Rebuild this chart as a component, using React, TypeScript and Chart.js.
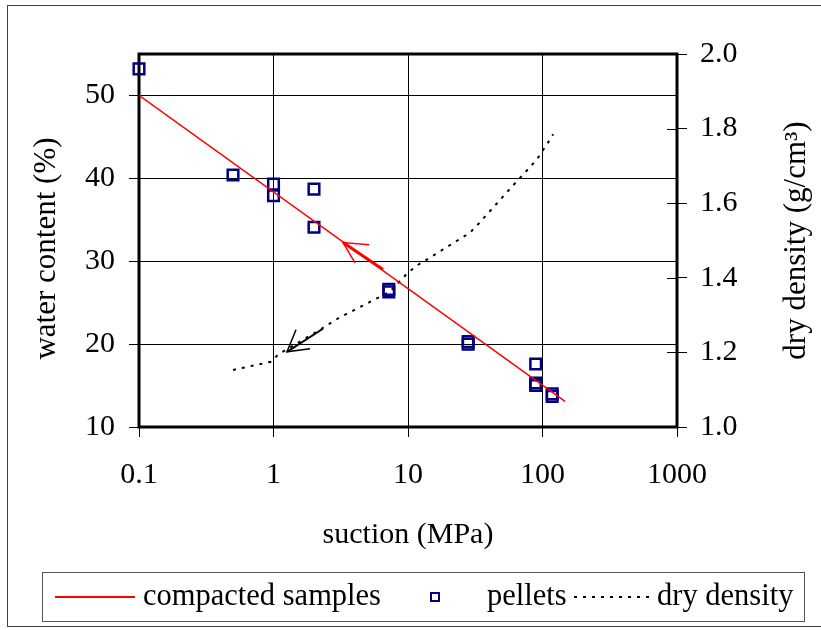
import React, { useEffect, useRef } from "react";
import { Chart, registerables } from "chart.js";

Chart.register(...registerables);

const FONT = "'Liberation Serif', 'Times New Roman', serif";

// Axis ticks
const suctionTicks = [0.1, 1, 10, 100, 1000];
const waterTicks = [10, 20, 30, 40, 50];
const densityTicks = [1.0, 1.2, 1.4, 1.6, 1.8, 2.0];

// Compacted samples (fitted line)
const compactedSuction = [0.1, 147];
const compactedWater = [50, 13.1];

// Pellets
const pelletSuction = [0.1, 0.5, 1, 1, 2, 2, 7.2, 7.2, 28, 28, 89, 89, 89, 118, 118];
const pelletWater = [53.2, 40.4, 39.3, 37.9, 38.7, 34.1, 26.3, 26.6, 20.0, 20.3, 17.6, 15.0, 15.3, 13.7, 14.0];

// Dry density
const densitySuction = [0.5, 0.96, 1.08, 2.22, 3.18, 3.77, 7.35, 10, 11.9, 13.8, 28.9, 33.7, 44.4, 58.4, 79.4, 91.1, 108, 120];
const densityValues = [1.153, 1.175, 1.194, 1.261, 1.296, 1.309, 1.363, 1.414, 1.435, 1.449, 1.521, 1.546, 1.594, 1.642, 1.694, 1.718, 1.758, 1.785];

// Annotation arrows (data coordinates, left axis)
const redHeadSuction = [5.13, 3.29, 4.04];
const redHeadWater = [32.0, 32.25, 29.8];
const redShaftSuction = [3.29, 6.52];
const redShaftWater = [32.25, 29.0];
const blackHeadSuction = [1.47, 1.26, 1.87];
const blackHeadWater = [21.73, 19.07, 19.43];
const blackShaftSuction = [1.26, 2.33];
const blackShaftWater = [19.07, 21.85];

const leftTitle = "water content (%)";
const rightTitle = "dry density (g/cm\u00B3)";

const toPts = (xs: number[], ys: number[]) => xs.map((x, i) => ({ x, y: ys[i] }));

const framePlugin = {
  id: "framePlugin",
  beforeDraw(chart: any) {
    const ctx = chart.ctx;
    ctx.save();
    ctx.fillStyle = "#fff";
    ctx.fillRect(0, 0, chart.width, chart.height);
    ctx.strokeStyle = "#404040";
    ctx.lineWidth = 1;
    ctx.strokeRect(7.5, 5.5, 820, 621);
    ctx.restore();
  },
  beforeDatasetsDraw(chart: any) {
    const { ctx, chartArea } = chart;
    const { left, top, right, bottom } = chartArea;
    ctx.save();
    ctx.strokeStyle = "#000";
    ctx.lineWidth = 1;
    const y1 = chart.scales.y1;
    densityTicks.forEach((t) => {
      const py = Math.round(y1.getPixelForValue(t)) + 0.5;
      ctx.beginPath();
      ctx.moveTo(right - 10, py);
      ctx.lineTo(right, py);
      ctx.stroke();
    });
    ctx.lineWidth = 3;
    ctx.strokeRect(left, top, right - left, bottom - top);
    ctx.restore();
  },
  afterDraw(chart: any) {
    const ctx = chart.ctx;
    const ds = chart.data.datasets;
    const ca = chart.chartArea;
    const midY = (ca.top + ca.bottom) / 2;
    ctx.save();
    ctx.fillStyle = "#000";
    ctx.font = `31px ${FONT}`;
    ctx.textAlign = "center";
    ctx.textBaseline = "middle";
    // left axis title
    ctx.translate(47, midY + 8);
    ctx.rotate(-Math.PI / 2);
    ctx.fillText(leftTitle, 0, 0);
    ctx.setTransform(1, 0, 0, 1, 0, 0);
    // right axis title (reads bottom to top)
    ctx.translate(797, midY);
    ctx.rotate(-Math.PI / 2);
    ctx.fillText(rightTitle, 0, 0);
    ctx.setTransform(1, 0, 0, 1, 0, 0);

    // legend box
    ctx.strokeStyle = "#555";
    ctx.lineWidth = 1;
    ctx.strokeRect(42.5, 572.5, 762, 49);
    const cy = 597;
    ctx.textAlign = "left";
    ctx.textBaseline = "middle";
    ctx.font = `30.5px ${FONT}`;
    // compacted samples
    ctx.strokeStyle = ds[0].borderColor;
    ctx.lineWidth = 2;
    ctx.beginPath();
    ctx.moveTo(55, cy);
    ctx.lineTo(135, cy);
    ctx.stroke();
    ctx.fillText(ds[0].label, 143, cy);
    // pellets
    ctx.strokeStyle = ds[1].borderColor;
    ctx.lineWidth = 2;
    ctx.strokeRect(431, cy - 4, 8, 8);
    ctx.fillText(ds[1].label, 487, cy);
    // dry density
    ctx.strokeStyle = ds[2].borderColor;
    ctx.lineWidth = 2;
    ctx.setLineDash(ds[2].borderDash);
    ctx.beginPath();
    ctx.moveTo(574, cy);
    ctx.lineTo(650, cy);
    ctx.stroke();
    ctx.setLineDash([]);
    ctx.fillText(ds[2].label, 657, cy);
    ctx.restore();
  },
};

export default function App() {
  const ref = useRef<HTMLCanvasElement>(null);
  useEffect(() => {
    const canvas = ref.current;
    if (!canvas) return;
    const tickFont = { family: FONT, size: 30 };
    const chart = new Chart(canvas, {
      type: "scatter",
      data: {
        datasets: [
          {
            label: "compacted samples",
            type: "line",
            data: toPts(compactedSuction, compactedWater),
            borderColor: "#FF0000",
            borderWidth: 1.5,
            pointRadius: 0,
            fill: false,
            yAxisID: "y",
          },
          {
            label: "pellets",
            data: toPts(pelletSuction, pelletWater),
            pointStyle: "rect",
            pointRadius: 7.5,
            borderColor: "#000080",
            borderWidth: 2.5,
            backgroundColor: "rgba(0,0,0,0)",
            yAxisID: "y",
            clip: false,
          },
          {
            label: "dry density",
            type: "line",
            data: toPts(densitySuction, densityValues),
            borderColor: "#000000",
            borderWidth: 2,
            borderDash: [3, 6],
            pointRadius: 0,
            fill: false,
            yAxisID: "y1",
          },
          {
            label: "",
            type: "line",
            data: toPts(redHeadSuction, redHeadWater),
            borderColor: "#FF0000",
            borderWidth: 1.5,
            pointRadius: 0,
            yAxisID: "y",
          },
          {
            label: "",
            type: "line",
            data: toPts(redShaftSuction, redShaftWater),
            borderColor: "#FF0000",
            borderWidth: 3,
            pointRadius: 0,
            yAxisID: "y",
          },
          {
            label: "",
            type: "line",
            data: toPts(blackHeadSuction, blackHeadWater),
            borderColor: "#000000",
            borderWidth: 1.5,
            pointRadius: 0,
            yAxisID: "y",
          },
          {
            label: "",
            type: "line",
            data: toPts(blackShaftSuction, blackShaftWater),
            borderColor: "#000000",
            borderWidth: 2,
            pointRadius: 0,
            yAxisID: "y",
          },
        ],
      } as any,
      options: {
        responsive: false,
        animation: false,
        devicePixelRatio: 1,
        layout: { padding: { left: 8, right: 9, top: 54, bottom: 70 } },
        plugins: { legend: { display: false }, tooltip: { enabled: false } },
        scales: {
          x: {
            type: "logarithmic",
            position: "bottom",
            min: 0.1,
            max: 1000,
            afterBuildTicks: (s: any) => {
              s.ticks = suctionTicks.map((v) => ({ value: v }));
            },
            afterFit: (s: any) => {
              s.height = 133;
            },
            ticks: {
              callback: (v: any) => String(v),
              font: tickFont,
              color: "#000",
              padding: 20,
              maxRotation: 0,
              autoSkip: false,
            },
            grid: { color: "#000", lineWidth: 1, tickLength: 10 },
            border: { display: false },
            title: {
              display: true,
              text: "suction (MPa)",
              font: tickFont,
              color: "#000",
              padding: { top: 0, bottom: 7 },
            },
          },
          y: {
            type: "linear",
            position: "left",
            min: 10,
            max: 55,
            afterBuildTicks: (s: any) => {
              s.ticks = waterTicks.map((v) => ({ value: v }));
            },
            afterFit: (s: any) => {
              s.width = 131;
            },
            ticks: { font: tickFont, color: "#000", padding: 14, callback: (v: any) => String(v) },
            grid: { color: "#000", lineWidth: 1, tickLength: 10 },
            border: { display: false },
          },
          y1: {
            type: "linear",
            position: "right",
            min: 1.0,
            max: 2.0,
            afterBuildTicks: (s: any) => {
              s.ticks = densityTicks.map((v) => ({ value: v }));
            },
            afterFit: (s: any) => {
              s.width = 135;
            },
            ticks: {
              font: tickFont,
              color: "#000",
              padding: 13,
              callback: (v: any) => Number(v).toFixed(1),
            },
            grid: { color: "#000", lineWidth: 1, tickLength: 10, drawOnChartArea: false },
            border: { display: false },
          },
        },
      } as any,
      plugins: [framePlugin],
    });
    return () => chart.destroy();
  }, []);
  return (
    <div style={{ position: "absolute", left: 0, top: 0, width: 821, height: 630 }}>
      <canvas ref={ref} width={821} height={630} style={{ display: "block" }} />
    </div>
  );
}
